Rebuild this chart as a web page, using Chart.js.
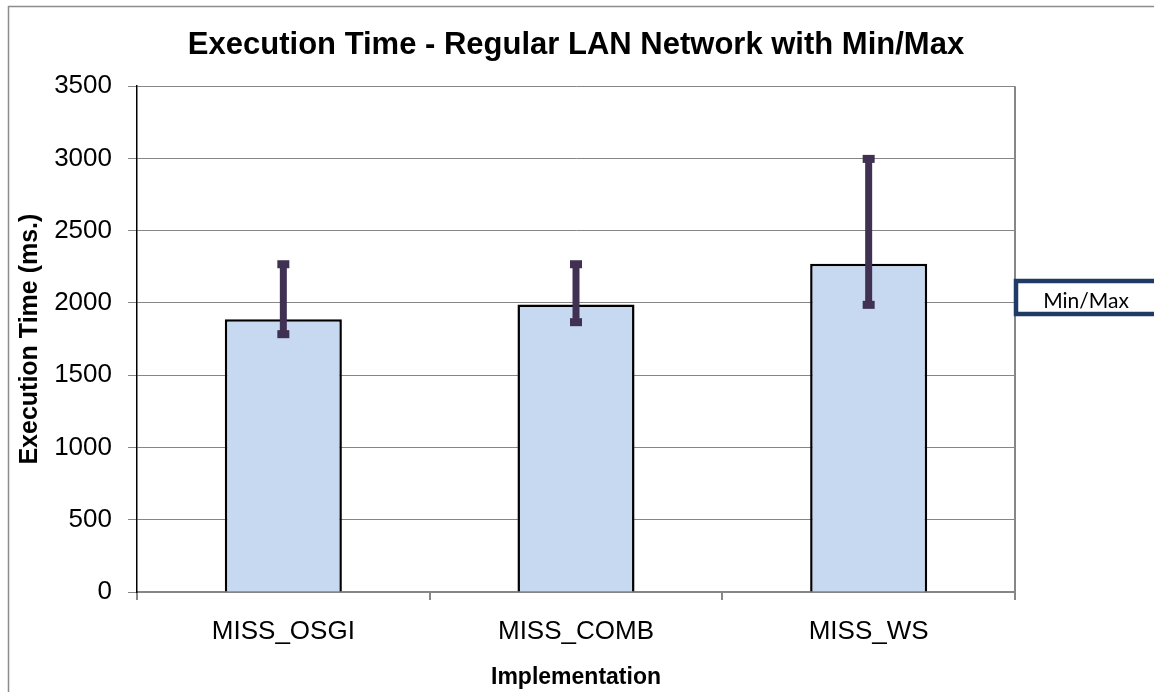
<!DOCTYPE html>
<html>
<head>
<meta charset="utf-8">
<title>Execution Time - Regular LAN Network with Min/Max</title>
<script src="https://cdn.jsdelivr.net/npm/chart.js@4.4.1/dist/chart.umd.min.js"></script>
<style>
  html, body { margin: 0; padding: 0; background: #fff; }
  #wrap { width: 1154px; height: 692px; position: relative; }
</style>
</head>
<body>
<div id="wrap"><canvas id="myChart" width="1154" height="692"></canvas></div>
<script>
'use strict'

// data
const categories = ['MISS_OSGI', 'MISS_COMB', 'MISS_WS'];
const execTimes = [1888, 1990, 2272];
const minTimes = [1784, 1867, 1987];
const maxTimes = [2268, 2268, 2997];
const yTicks = [0, 500, 1000, 1500, 2000, 2500, 3000, 3500];

const gridGrey = '#868686';
const errColor = '#403152';

Chart.defaults.font.family = '"Liberation Sans", Arial, sans-serif';
Chart.defaults.color = '#000';

// grey frame round the whole chart
const frame = {
  id: 'frame',
  beforeDraw(chart) {
    const ctx = chart.ctx;
    ctx.save();
    ctx.fillStyle = '#fff';
    ctx.fillRect(0, 0, chart.width, chart.height);
    ctx.strokeStyle = '#8c8c8c';
    ctx.lineWidth = 1.5;
    ctx.strokeRect(8.5, 6.5, chart.width + 20, chart.height + 20);
    ctx.restore();
  },
  afterDraw(chart) {
    // right edge of the plot area
    const a = chart.chartArea;
    const ctx = chart.ctx;
    ctx.save();
    ctx.strokeStyle = gridGrey;
    ctx.lineWidth = 2;
    ctx.beginPath();
    ctx.moveTo(a.right, a.top);
    ctx.lineTo(a.right, a.bottom);
    ctx.stroke();
    ctx.restore();
  }
};

// min/max whiskers on each bar
const minMax = {
  id: 'minMax',
  afterDatasetsDraw(chart) {
    const ctx = chart.ctx;
    const y = chart.scales.y;
    const bars = chart.getDatasetMeta(0).data;
    ctx.save();
    ctx.strokeStyle = errColor;
    ctx.fillStyle = errColor;
    ctx.lineWidth = 7;
    for (let i = 0; i < bars.length; i++) {
      const x = bars[i].x;
      const yLo = y.getPixelForValue(minTimes[i]);
      const yHi = y.getPixelForValue(maxTimes[i]);
      ctx.beginPath();
      ctx.moveTo(x, yLo);
      ctx.lineTo(x, yHi);
      ctx.stroke();
      ctx.fillRect(x - 6, yHi - 4, 12, 8);
      ctx.fillRect(x - 6, yLo - 4, 12, 8);
    }
    ctx.restore();
  }
};

// boxed legend entry on the right
const legendBox = {
  id: 'legendBox',
  afterDraw(chart) {
    const ctx = chart.ctx;
    ctx.save();
    ctx.fillStyle = '#fff';
    ctx.fillRect(1016, 281, 150, 33);
    ctx.strokeStyle = '#1f3a64';
    ctx.lineWidth = 4.5;
    ctx.strokeRect(1016, 281, 150, 33);
    ctx.fillStyle = '#000';
    ctx.font = '21px Lato, "Noto Sans", sans-serif';
    ctx.textAlign = 'center';
    ctx.textBaseline = 'middle';
    ctx.fillText('Min/Max', 1086, 301);
    ctx.restore();
  }
};

const data = {
  labels: categories,
  datasets: [{
    label: 'Execution Time',
    data: execTimes,
    backgroundColor: '#c6d9f1',
    borderColor: '#000',
    borderWidth: 2.5,
    categoryPercentage: 1,
    barPercentage: 0.4
  }]
};

const config = {
  type: 'bar',
  data: data,
  options: {
    responsive: false,
    animation: false,
    layout: { padding: { left: 0, right: 139, top: 0, bottom: 0 } },
    plugins: {
      legend: { display: false },
      tooltip: { enabled: false },
      title: {
        display: true,
        text: 'Execution Time - Regular LAN Network with Min/Max',
        fullSize: false,
        font: { size: 31, weight: 'bold' },
        padding: { top: 27, bottom: 22 }
      }
    },
    scales: {
      x: {
        grid: {
          display: true,
          drawOnChartArea: false,
          offset: true,
          color: gridGrey,
          tickLength: 8,
          lineWidth: 2
        },
        border: { color: gridGrey, width: 2 },
        ticks: { font: { size: 26 }, padding: 16 },
        title: {
          display: true,
          text: 'Implementation',
          font: { size: 23, weight: 'bold' },
          padding: { top: 0, bottom: 1 }
        },
        afterFit(scale) { scale.height = 100; }
      },
      y: {
        min: 0,
        max: 3500,
        afterBuildTicks(scale) { scale.ticks = yTicks.map(v => ({ value: v })); },
        grid: { color: gridGrey, lineWidth: 1, tickLength: 9 },
        border: { color: '#000', width: 1.5 },
        ticks: {
          font: { size: 26 },
          padding: 16,
          callback: v => String(v)
        },
        title: {
          display: true,
          text: 'Execution Time (ms.)',
          font: { size: 25, weight: 'bold' },
          padding: { top: 15, bottom: 0 }
        },
        afterFit(scale) { scale.width = 137; }
      }
    }
  },
  plugins: [frame, minMax, legendBox]
};

const myChart = new Chart(document.getElementById('myChart'), config);
</script>
</body>
</html>
